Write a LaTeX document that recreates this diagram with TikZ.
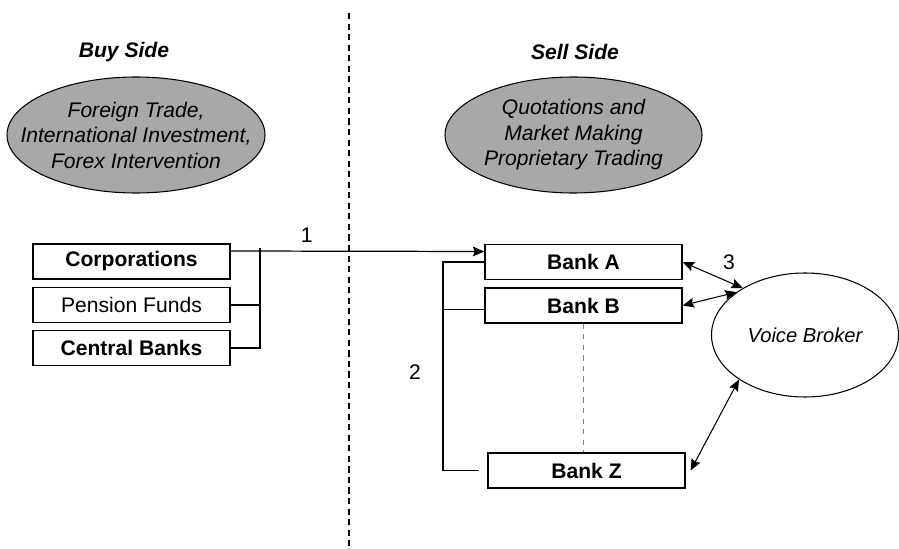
\documentclass[tikz,border=0pt]{standalone}
\usepackage{fontspec}
\setmainfont{Liberation Sans}
\usepackage{xcolor}
\usepackage{tikz}
\usetikzlibrary{arrows.meta, positioning, shapes.geometric}

\definecolor{ovalgray}{RGB}{168,168,168}

\begin{document}
\begin{tikzpicture}[
    font=\fontsize{12}{14.5}\selectfont,
    box/.style={rectangle, draw, line width=0.7pt, minimum width=3.94cm, minimum height=0.7cm, inner sep=0pt},
    boldbox/.style={box, font=\fontsize{12}{14.5}\selectfont\bfseries},
    oval/.style={ellipse, draw, line width=0.6pt, fill=ovalgray, inner sep=0pt},
    ovaltext/.style={align=center, inner sep=0pt, font=\fontsize{12}{14.5}\selectfont\itshape},
    side/.style={font=\fontsize{12}{14.5}\selectfont\bfseries\itshape},
    arrow/.style={-{Stealth[length=6.5pt, width=5.5pt, inset=1pt]}, line width=0.7pt},
    twoway/.style={{Stealth[length=6.5pt, width=5.5pt, inset=1pt]}-{Stealth[length=6.5pt, width=5.5pt, inset=1pt]}, line width=0.6pt},
    link/.style={line width=0.7pt},
    num/.style={font=\fontsize{12}{14.5}\selectfont}
]
\useasboundingbox (0,0) rectangle (17.98,-10.98);

% Divider between the two sides
\draw[line width=0.6pt, dash pattern=on 3.5pt off 2.5pt] (6.98,-0.26) -- (6.98,-10.98);

% Buy side (left)
\node[side] (buy) at (2.48,-1.04) {Buy Side};
\node[oval, minimum width=5.16cm, minimum height=2.32cm,
      label={[ovaltext]center:{Foreign Trade,\\International Investment,\\Forex Intervention}}] (buyoval) at (2.72,-2.7) {};

\node[boldbox] (corp) at (2.63,-5.23) {Corporations};
\node[box] (pension) at (2.63,-6.1) {Pension Funds};
\node[boldbox] (central) at (2.63,-6.96) {Central Banks};

% Sell side (right)
\node[side] (sell) at (11.5,-1.04) {Sell Side};
\node[oval, minimum width=5.14cm, minimum height=2.32cm,
      label={[ovaltext]center:{Quotations and\\Market Making\\Proprietary Trading}}] (selloval) at (11.47,-2.7) {};

\node[boldbox] (bankA) at (11.67,-5.24) {Bank A};
\node[boldbox] (bankB) at (11.67,-6.11) {Bank B};
\node[boldbox] (bankZ) at (11.73,-9.41) {Bank Z};

\node[ellipse, draw, line width=0.6pt, minimum width=3.74cm, minimum height=2.48cm, font=\fontsize{11.5}{14}\selectfont\itshape] (broker) at (16.1,-6.7) {Voice Broker};

% Buy side bracket and arrow 1
\coordinate (buybar) at (5.2,-4.96);
\draw[arrow] ([yshift=0.21cm]corp.east) -- ([yshift=0.21cm]bankA.west) node[num, pos=0.3, above=1pt] {1};
\draw[link] (pension.east) -- (pension.east -| buybar);
\draw[link] (central.east) -| (buybar);

% Interbank bracket 2
\coordinate (sellbar) at (8.86,-5.24);
\draw[link] (bankA.west) -- (sellbar) |- ([xshift=-0.16cm]bankZ.west);
\draw[link] ([yshift=-0.08cm]bankB.west) -- ([yshift=-0.08cm]bankB.west -| sellbar);
\node[num] (two) at (8.3,-7.44) {2};
\draw[line width=0.6pt, gray, dashed] (bankB.south) -- (bankB.south |- bankZ.north);

% Broker links 3
\draw[twoway] (bankA.east) -- (broker.143);
\draw[twoway] (bankB.east) -- (broker.148);
\draw[twoway] ([xshift=0.1cm]bankZ.east) -- (broker.214);
\node[num] (three) at (14.58,-5.24) {3};

\end{tikzpicture}
\end{document}
